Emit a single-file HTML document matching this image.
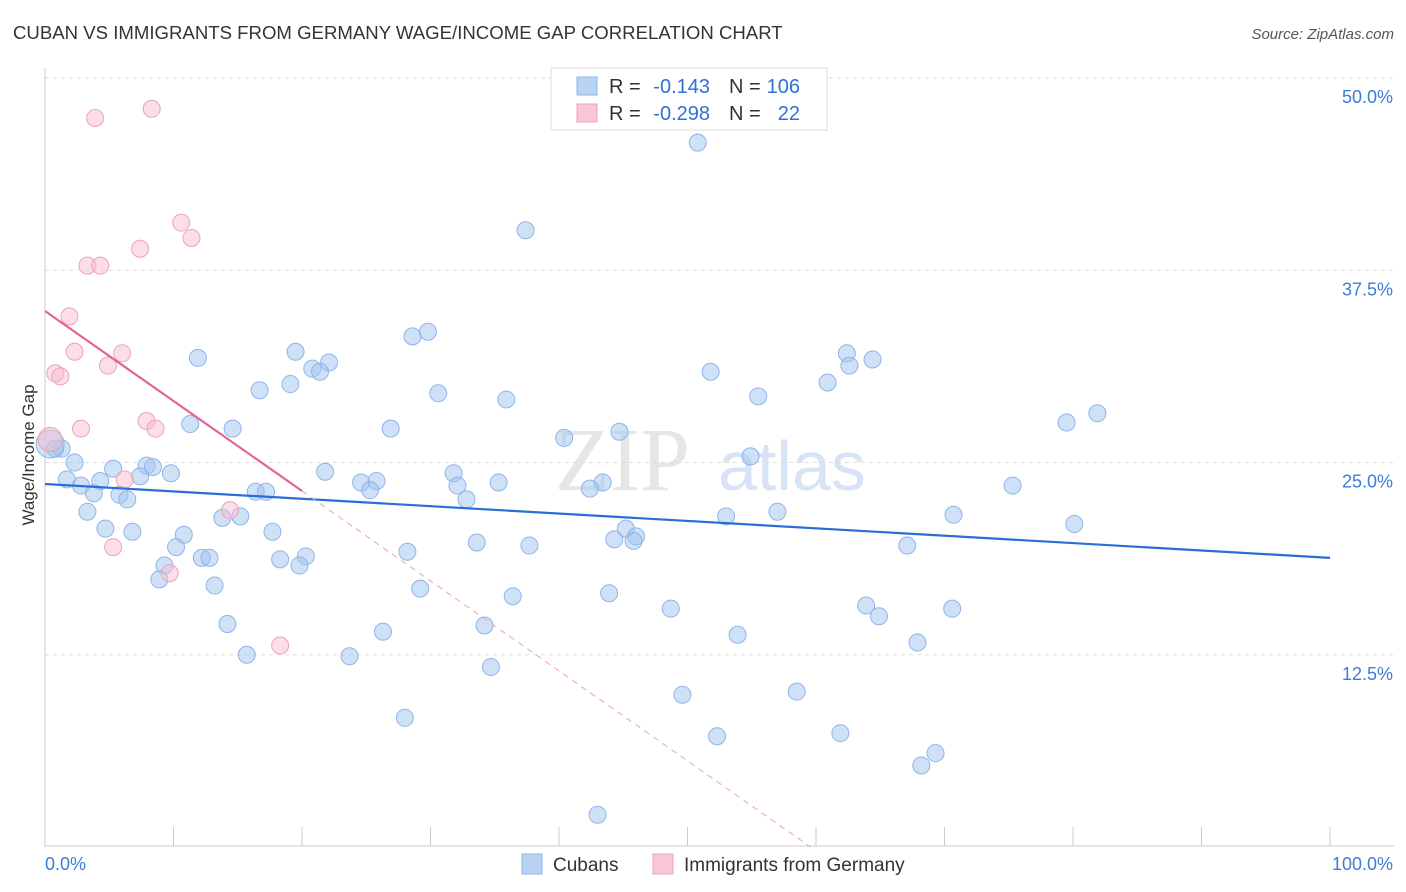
<!DOCTYPE html>
<html><head><meta charset="utf-8"><style>
body{margin:0;background:#fff;font-family:"Liberation Sans",sans-serif}
svg{display:block}
</style></head><body>
<svg id="c" width="1406" height="892">
<text x="13" y="39" font-size="18.6" fill="#333">CUBAN VS IMMIGRANTS FROM GERMANY WAGE/INCOME GAP CORRELATION CHART</text>
<text x="1394" y="39" font-size="15" fill="#555" text-anchor="end" font-style="italic">Source: ZipAtlas.com</text>
<text x="555" y="490" font-size="90" fill="#e6e6e6" font-family="Liberation Serif,serif">ZIP</text>
<text x="718" y="490" font-size="70" fill="#d6e4f5">atlas</text>
<text transform="translate(34,455) rotate(-90)" font-size="17" fill="#333" text-anchor="middle">Wage/Income Gap</text>
<g id="grid"></g><g id="pts"></g><g id="lines"></g>
<g>
<rect x="551" y="68" width="276" height="62" fill="#fff" stroke="#ddd"/>
<rect x="577" y="77" width="20" height="18" fill="#b9d3f5" stroke="#8fb5e8"/>
<rect x="577" y="104" width="20" height="18" fill="#f9c6d6" stroke="#eda3b9"/>
<g font-size="20" fill="#333">
<text x="609" y="93">R =</text><text x="710" y="93" text-anchor="end" fill="#2f6fd6">-0.143</text>
<text x="729" y="93">N =</text><text x="800" y="93" text-anchor="end" fill="#2f6fd6">106</text>
<text x="609" y="120">R =</text><text x="710" y="120" text-anchor="end" fill="#2f6fd6">-0.298</text>
<text x="729" y="120">N =</text><text x="800" y="120" text-anchor="end" fill="#2f6fd6">22</text>
</g>
</g>
<g>
<rect x="522" y="854" width="20" height="20" fill="#b9d3f5" stroke="#8fb5e8"/>
<text x="553" y="871" font-size="19" fill="#333">Cubans</text>
<rect x="653" y="854" width="20" height="20" fill="#f9c6d6" stroke="#eda3b9"/>
<text x="684" y="871" font-size="19" fill="#333">Immigrants from Germany</text>
</g>
</svg>
<script>
const yTicks=[12.5,25,37.5,50];
const yTickLabels=["12.5%","25.0%","37.5%","50.0%"];
const xTickVals=[0,10,20,30,40,50,60,70,80,90,100];
const blueX=[50.8,37.4,29.8,28.6,19.5,11.9,22.1,20.8,21.4,51.8,62.4,62.6,64.4,60.9,19.1,16.7,30.6,35.9,55.5,81.9,79.5,26.9,11.3,14.6,44.7,40.4,0.8,1.3,54.9,2.3,5.3,7.9,8.4,9.8,7.4,21.8,31.8,1.7,4.3,2.8,24.6,25.8,32.1,35.3,43.4,42.4,75.3,3.8,5.8,6.4,16.4,17.2,25.3,32.8,3.3,13.8,15.2,53.0,57.0,70.7,80.1,4.7,6.8,17.7,10.8,45.2,46.0,44.3,45.8,33.6,37.7,10.2,28.2,67.1,12.2,12.8,18.3,20.3,19.8,9.3,8.9,13.2,29.2,36.4,43.9,48.7,63.9,64.9,70.6,14.2,26.3,34.2,53.9,67.9,15.7,23.7,34.7,49.6,58.5,28.0,52.3,61.9,69.3,68.2,43.0,0.4];
const blueY=[45.8,40.1,33.5,33.2,32.2,31.8,31.5,31.1,30.9,30.9,32.1,31.3,31.7,30.2,30.1,29.7,29.5,29.1,29.3,28.2,27.6,27.2,27.5,27.2,27.0,26.6,25.9,25.9,25.4,25.0,24.6,24.8,24.7,24.3,24.1,24.4,24.3,23.9,23.8,23.5,23.7,23.8,23.5,23.7,23.7,23.3,23.5,23.0,22.9,22.6,23.1,23.1,23.2,22.6,21.8,21.4,21.5,21.5,21.8,21.6,21.0,20.7,20.5,20.5,20.3,20.7,20.2,20.0,19.9,19.8,19.6,19.5,19.2,19.6,18.8,18.8,18.7,18.9,18.3,18.3,17.4,17.0,16.8,16.3,16.5,15.5,15.7,15.0,15.5,14.5,14.0,14.4,13.8,13.3,12.5,12.4,11.7,9.9,10.1,8.4,7.2,7.4,6.1,5.3,2.1,26.2];
const pinkX=[8.3,3.9,10.6,11.4,7.4,3.3,4.3,1.9,2.3,6.0,4.9,0.8,1.2,7.9,8.6,2.8,0.4,6.2,14.4,5.3,9.7,18.3];
const pinkY=[48.0,47.4,40.6,39.6,38.9,37.8,37.8,34.5,32.2,32.1,31.3,30.8,30.6,27.7,27.2,27.2,26.5,23.9,21.9,19.5,17.8,13.1];
const blueTrend=[23.6,18.8];
const pinkTrend=[34.85,-0.585];
const X0=45,X1=1330,YB=847;
const sx=v=>X0+(X1-X0)*v/100, sy=v=>YB-v*15.38;
const NS="http://www.w3.org/2000/svg";
function mk(t,a,p){const e=document.createElementNS(NS,t);for(const k in a)e.setAttribute(k,a[k]);p.appendChild(e);return e;}
const g=document.getElementById('grid');
yTicks.forEach((t,i)=>{
 const l=mk('line',{x1:45,x2:1394,y1:sy(t),y2:sy(t),stroke:'#ddd','stroke-dasharray':'4,4'},g);
 
 
 const tx=mk('text',{x:1393,y:sy(t)+25,'font-size':18,fill:'#3b7dd8','text-anchor':'end'},g);tx.textContent=yTickLabels[i];
 
 
});
mk('line',{x1:45,x2:45,y1:68,y2:847,stroke:'#ccc'},g);
mk('line',{x1:45,x2:1394,y1:846,y2:846,stroke:'#ccc'},g);
xTickVals.forEach(v=>{const l=mk('line',{x1:sx(v),x2:sx(v),y1:827,y2:846,stroke:'#ccc'},g);
 
 });
let t1=mk('text',{x:45,y:870,'font-size':18,fill:'#3b7dd8'},g);t1.textContent='0.0%';


let t2=mk('text',{x:1393,y:870,'font-size':18,fill:'#3b7dd8','text-anchor':'end'},g);t2.textContent='100.0%';


const p=document.getElementById('pts');
blueX.forEach((x,i)=>{const c=mk('circle',{cx:sx(x),cy:sy(blueY[i]),r:i==blueX.length-1?14:8.5,fill:'rgba(160,195,240,0.5)',stroke:'#8fb5e8','stroke-width':1},p);
 
 });
pinkX.forEach((x,i)=>{const c=mk('circle',{cx:sx(x),cy:sy(pinkY[i]),r:i==16?12:8.5,fill:'rgba(248,190,208,0.5)',stroke:'#eda3b9','stroke-width':1},p);
 
 });
const L=document.getElementById('lines');
const bl=mk('line',{x1:sx(0),y1:sy(blueTrend[0]),x2:sx(100),y2:sy(blueTrend[1]),stroke:'#2a6fd6','stroke-width':2.2},L);


const pe=20, pz=-pinkTrend[0]/pinkTrend[1];
const pl=mk('line',{x1:sx(0),y1:sy(pinkTrend[0]),x2:sx(pe),y2:sy(pinkTrend[0]+pinkTrend[1]*pe),stroke:'#e4658e','stroke-width':2.2},L);


const pd=mk('line',{x1:sx(pe),y1:sy(pinkTrend[0]+pinkTrend[1]*pe),x2:sx(pz),y2:sy(0),stroke:'#e9a3b8','stroke-width':1,'stroke-dasharray':'6,5'},L);


</script>
</body></html>
